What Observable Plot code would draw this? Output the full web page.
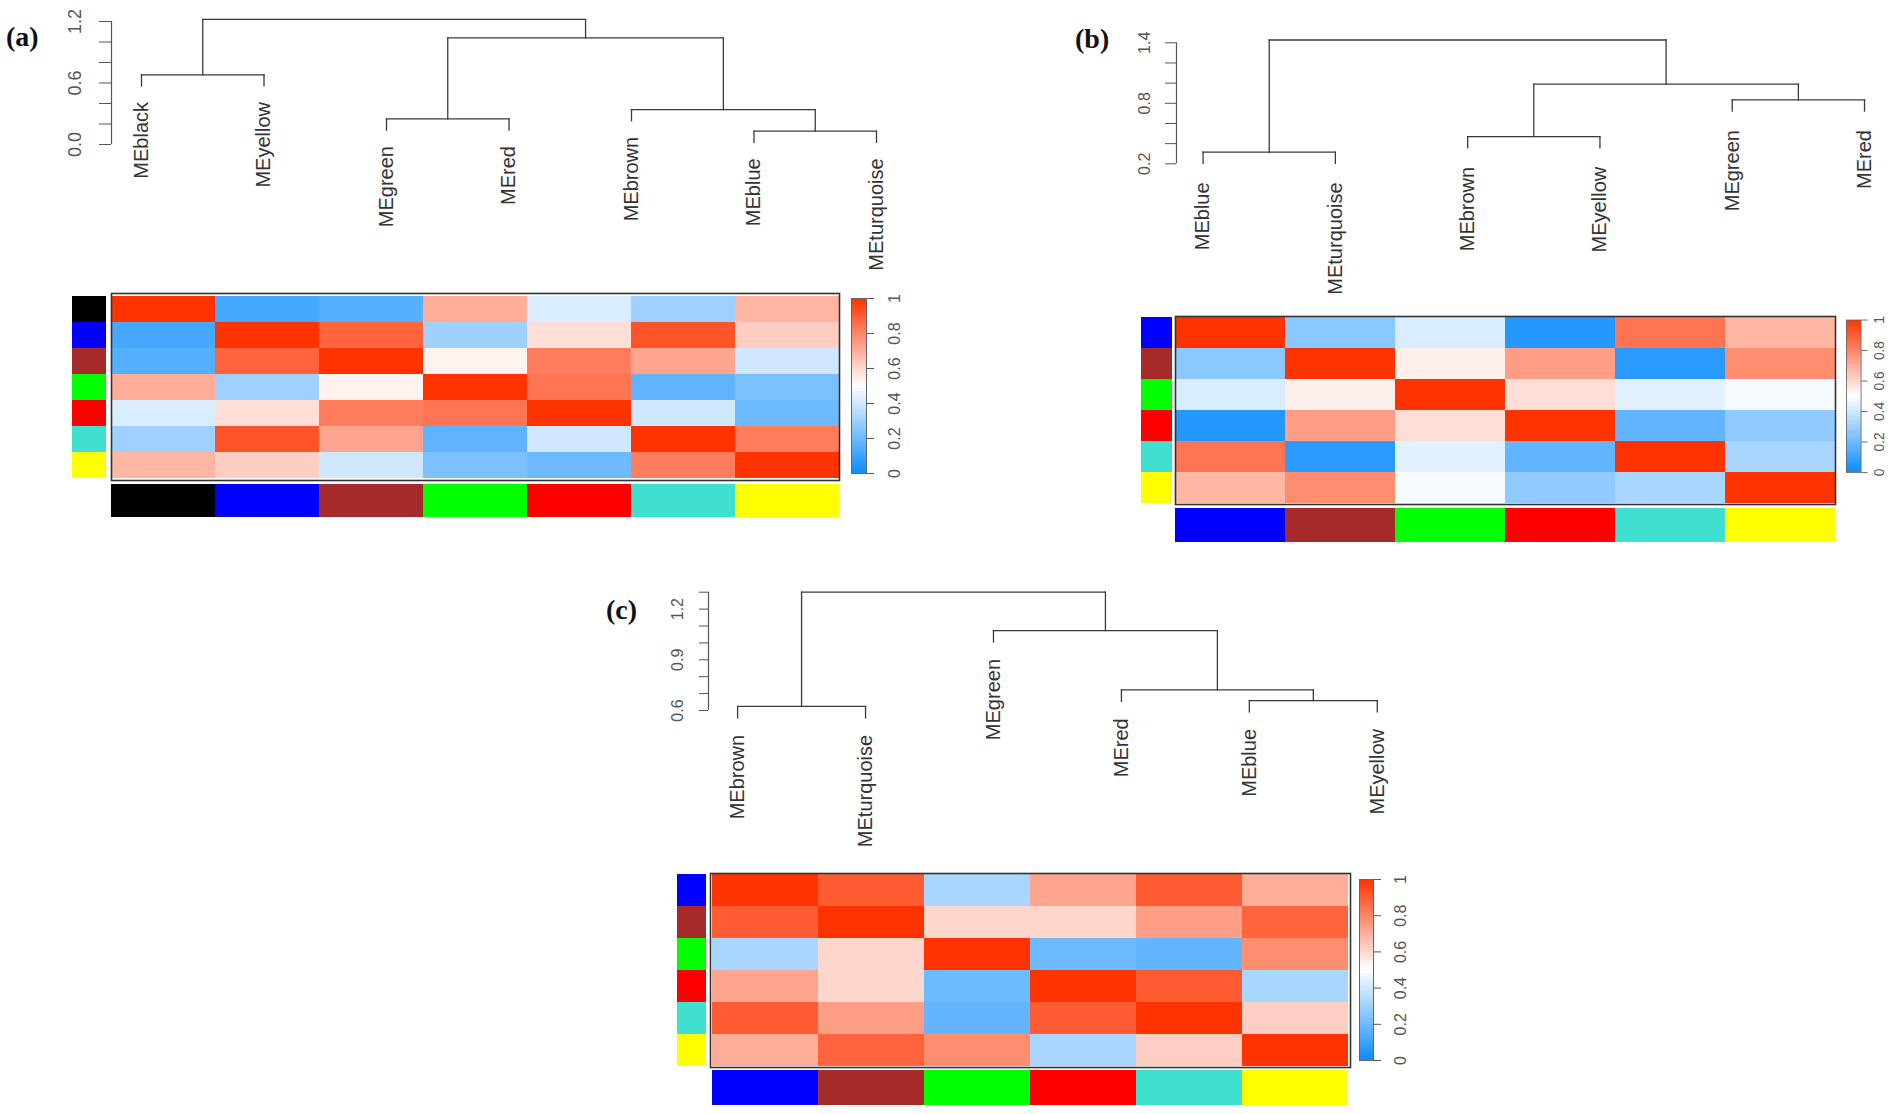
<!DOCTYPE html>
<html><head><meta charset="utf-8">
<script src="https://cdn.jsdelivr.net/npm/d3@7"></script>
<script src="https://cdn.jsdelivr.net/npm/@observablehq/plot@0.6"></script>
<style>
html,body{margin:0;padding:0;background:#fff;}
#fig{position:relative;width:1902px;height:1114px;overflow:hidden;background:#fff;}
.part{position:absolute;}
.part svg{display:block;overflow:visible;background:transparent;}
.tag{position:absolute;font-family:"Liberation Serif","Times New Roman",serif;font-weight:bold;font-size:28px;line-height:28px;color:#111;white-space:nowrap;}
</style></head><body><div id="fig"></div>
<script>
// ================= DATA =================
const moduleNames = ["black","blue","brown","green","red","turquoise","yellow"];
const moduleHex   = ["#000000","#0000FF","#A52A2A","#00FF00","#FF0000","#40E0D0","#FFFF00"];

// ---- panel (a) ----
const leafOrderA = ["MEblack","MEyellow","MEgreen","MEred","MEbrown","MEblue","MEturquoise"];
const mergeA  = [[-6,-7],[-3,-4],[-5,1],[-1,-2],[2,3],[4,5]];   // negative = leaf position
const heightA = [0.13,0.25,0.34,0.68,1.04,1.22];
const ticksA  = [0,0.2,0.4,0.6,0.8,1.0,1.2];
const tickLabelsA = ["0.0","","","0.6","","","1.2"];
const modulesA = ["black","blue","brown","green","red","turquoise","yellow"];
const adjA = [
  [1.00,0.12,0.15,0.70,0.42,0.30,0.68],
  [0.12,1.00,0.88,0.30,0.58,0.92,0.62],
  [0.15,0.88,1.00,0.53,0.82,0.72,0.40],
  [0.70,0.30,0.53,1.00,0.84,0.17,0.23],
  [0.42,0.58,0.82,0.84,1.00,0.40,0.20],
  [0.30,0.92,0.72,0.17,0.40,1.00,0.82],
  [0.68,0.62,0.40,0.23,0.20,0.82,1.00]
];

// ---- panel (b) ----
const leafOrderB = ["MEblue","MEturquoise","MEbrown","MEyellow","MEgreen","MEred"];
const mergeB  = [[-1,-2],[-3,-4],[-5,-6],[2,3],[1,4]];
const heightB = [0.315,0.47,0.834,0.99,1.428];
const ticksB  = [0.2,0.4,0.6,0.8,1.0,1.2,1.4];
const tickLabelsB = ["0.2","","","0.8","","","1.4"];
const modulesB = ["blue","brown","green","red","turquoise","yellow"];
const adjB = [
  [1.00,0.26,0.42,0.05,0.84,0.68],
  [0.26,1.00,0.54,0.74,0.06,0.78],
  [0.42,0.54,1.00,0.58,0.44,0.48],
  [0.05,0.74,0.58,1.00,0.18,0.27],
  [0.84,0.06,0.44,0.18,1.00,0.32],
  [0.68,0.78,0.48,0.27,0.32,1.00]
];

// ---- panel (c) ----
const leafOrderC = ["MEbrown","MEturquoise","MEgreen","MEred","MEblue","MEyellow"];
const mergeC  = [[-1,-2],[-5,-6],[-4,2],[-3,3],[1,4]];
const heightC = [0.624,0.659,0.722,1.073,1.30];
const ticksC  = [0.6,0.7,0.8,0.9,1.0,1.1,1.2,1.3];
const tickLabelsC = ["0.6","","","0.9","","","1.2",""];
const modulesC = ["blue","brown","green","red","turquoise","yellow"];
const adjC = [
  [1.00,0.90,0.32,0.72,0.90,0.70],
  [0.90,1.00,0.60,0.60,0.74,0.88],
  [0.32,0.60,1.00,0.20,0.18,0.78],
  [0.72,0.60,0.20,1.00,0.90,0.32],
  [0.90,0.74,0.18,0.90,1.00,0.62],
  [0.70,0.88,0.78,0.32,0.62,1.00]
];

// colour bar
const barTicks  = [0,0.2,0.4,0.6,0.8,1];
const barLabels = ["0","0.2","0.4","0.6","0.8","1"];

// ================= STYLE / LAYOUT =================
const SANS = "'Liberation Sans', Arial, Helvetica, sans-serif";
const heatColor = {type:"linear", domain:[0,0.5,1], range:["rgb(13,140,255)","rgb(255,255,255)","rgb(255,51,0)"], interpolate:"rgb"};
const hexOf = name => moduleHex[moduleNames.indexOf(name)];
const fig = document.getElementById("fig");

function place(node, left, top) {
  const d = document.createElement("div");
  d.className = "part";
  d.style.left = left + "px";
  d.style.top = top + "px";
  d.appendChild(node);
  fig.appendChild(d);
}
function tag(text, left, top) {
  const d = document.createElement("div");
  d.className = "tag";
  d.textContent = text;
  d.style.left = left + "px";
  d.style.top = top + "px";
  fig.appendChild(d);
}

function dendroSegments(merge, height) {
  const hang = 0.1 * (d3.max(height) - d3.min(height));
  const nodes = [], segs = [], leaves = [];
  const get = (k, h) => {
    if (k < 0) { leaves.push({x: -k, y: h - hang}); return {x: -k, top: h - hang}; }
    const c = nodes[k - 1]; return {x: c.x, top: c.h};
  };
  merge.forEach(([a, b], i) => {
    const h = height[i];
    const A = get(a, h), B = get(b, h);
    segs.push({x1: A.x, y1: A.top, x2: A.x, y2: h});
    segs.push({x1: B.x, y1: B.top, x2: B.x, y2: h});
    segs.push({x1: A.x, y1: h, x2: B.x, y2: h});
    nodes.push({x: (A.x + B.x) / 2, h});
  });
  return {segs, leaves};
}

function dendrogram({leafOrder, merge, height, ticks, tickLabels, L}) {
  const n = leafOrder.length;
  const {segs, leaves} = dendroSegments(merge, height);
  const x0 = 1 - L.pad, x1 = n + L.pad;
  return Plot.plot({
    width: L.width, height: L.height,
    marginLeft: L.ml, marginRight: L.mr, marginTop: L.mt, marginBottom: L.mb,
    style: {fontFamily: SANS, fontSize: "16px", color: "#555", background: "transparent"},
    x: {domain: [x0, x1], axis: null},
    y: {domain: [ticks[0], ticks[ticks.length - 1]], ticks, tickFormat: () => "",
        tickSize: L.tick, label: null, axis: "left"},
    marks: [
      Plot.ruleX([x0], {y1: ticks[0], y2: ticks[ticks.length - 1], stroke: "#555", strokeWidth: 1.2}),
      Plot.text(ticks, {y: d => d, frameAnchor: "left", text: (d, i) => tickLabels[i], rotate: -90,
        textAnchor: "middle", lineAnchor: "middle", dx: -L.lab, fontSize: L.fs, fill: "#555", fontFamily: SANS}),
      Plot.link(segs, {x1: "x1", y1: "y1", x2: "x2", y2: "y2", stroke: "#3a3a3a", strokeWidth: 1.3, strokeLinecap: "square"}),
      Plot.text(leaves, {x: "x", y: "y", text: d => leafOrder[d.x - 1], rotate: -90, textAnchor: "end",
        lineAnchor: "middle", dy: L.gap, fontSize: 20, fill: "#333", fontFamily: SANS})
    ]
  });
}

function heatmap({modules, adj, L}) {
  const cells = modules.flatMap((r, i) => modules.map((c, j) => ({row: r, col: c, v: adj[i][j]})));
  const main = Plot.plot({
    width: L.w + 2, height: L.h + 2, margin: 1,
    style: {background: "transparent"},
    x: {domain: modules, axis: null, padding: 0},
    y: {domain: modules, axis: null, padding: 0},
    color: heatColor,
    marks: [
      Plot.cell(cells, {x: "col", y: "row", fill: "v", inset: 0, shapeRendering: "crispEdges"}),
      Plot.frame({stroke: "#333", strokeWidth: 1.6})
    ]
  });
  place(main, L.x - 1, L.y - 1);
  const rowStrip = Plot.plot({
    width: L.sw, height: L.h, margin: 0,
    style: {background: "transparent"},
    x: {domain: ["s"], axis: null, padding: 0},
    y: {domain: modules, axis: null, padding: 0},
    color: {type: "identity"},
    marks: [Plot.cell(modules, {x: () => "s", y: d => d, fill: d => hexOf(d), inset: 0, shapeRendering: "crispEdges"})]
  });
  place(rowStrip, L.sx, L.y);
  const colStrip = Plot.plot({
    width: L.w, height: L.bh, margin: 0,
    style: {background: "transparent"},
    x: {domain: modules, axis: null, padding: 0},
    y: {domain: ["s"], axis: null, padding: 0},
    color: {type: "identity"},
    marks: [Plot.cell(modules, {x: d => d, y: () => "s", fill: d => hexOf(d), inset: 0, shapeRendering: "crispEdges"})]
  });
  place(colStrip, L.x, L.by);
  // colour bar
  const levels = d3.range(60);
  const bar = Plot.plot({
    width: L.cbw + 48, height: L.cbh + 20,
    marginLeft: 0, marginRight: 48, marginTop: 10, marginBottom: 10,
    style: {fontFamily: SANS, fontSize: "16px", color: "#555", background: "transparent"},
    x: {domain: [0, 1], axis: null},
    y: {domain: [0, 1], ticks: barTicks, tickFormat: () => "", tickSize: 7, axis: "right", label: null},
    color: heatColor,
    marks: [
      Plot.rect(levels, {x1: 0, x2: 1, y1: d => d / levels.length, y2: d => (d + 1) / levels.length,
        fill: d => (d + 0.5) / levels.length, shapeRendering: "crispEdges"}),
      Plot.frame({stroke: "#666", strokeWidth: 1}),
      Plot.text(barTicks, {y: d => d, frameAnchor: "right", text: (d, i) => barLabels[i], rotate: -90,
        textAnchor: "middle", lineAnchor: "middle", dx: L.cbdx, fontSize: 16, fill: "#555", fontFamily: SANS})
    ]
  });
  place(bar, L.cbx, L.cby - 10);
}

// ================= PANEL (a) =================
place(dendrogram({leafOrder: leafOrderA, merge: mergeA, height: heightA, ticks: ticksA, tickLabels: tickLabelsA,
  L: {width: 920, height: 290, ml: 111, mr: 14, mt: 21, mb: 146, pad: 0.245, tick: 12, lab: 36, fs: 18, gap: 16}}), 0, 0);
heatmap({modules: modulesA, adj: adjA,
  L: {x: 111, y: 293, w: 728, h: 187, sx: 72, sw: 34, by: 484, bh: 33, cbx: 851, cby: 298, cbw: 15, cbh: 175, cbdx: 28}});
tag("(a)", 6, 23);

// ================= PANEL (b) =================
place(dendrogram({leafOrder: leafOrderB, merge: mergeB, height: heightB, ticks: ticksB, tickLabels: tickLabelsB,
  L: {width: 832, height: 310, ml: 106, mr: 11.4, mt: 42.3, mb: 146.7, pad: 0.201, tick: 11, lab: 32, fs: 16, gap: 19}}), 1070, 0);
heatmap({modules: modulesB, adj: adjB,
  L: {x: 1175, y: 316, w: 660, h: 188, sx: 1141, sw: 31, by: 508, bh: 34, cbx: 1846, cby: 321, cbw: 17, cbh: 177, cbdx: 22}});
tag("(b)", 1075, 25);

// ================= PANEL (c) =================
place(dendrogram({leafOrder: leafOrderC, merge: mergeC, height: heightC, ticks: ticksC, tickLabels: tickLabelsC,
  L: {width: 820, height: 300, ml: 108, mr: 14.1, mt: 31.7, mb: 150, pad: 0.2275, tick: 9, lab: 31, fs: 16, gap: 17}}), 600, 560);
heatmap({modules: modulesC, adj: adjC,
  L: {x: 710, y: 873, w: 640, h: 194, sx: 677, sw: 29, by: 1070, bh: 35, cbx: 1359, cby: 879, cbw: 14, cbh: 181, cbdx: 27}});
tag("(c)", 606, 596);
</script></body></html>
